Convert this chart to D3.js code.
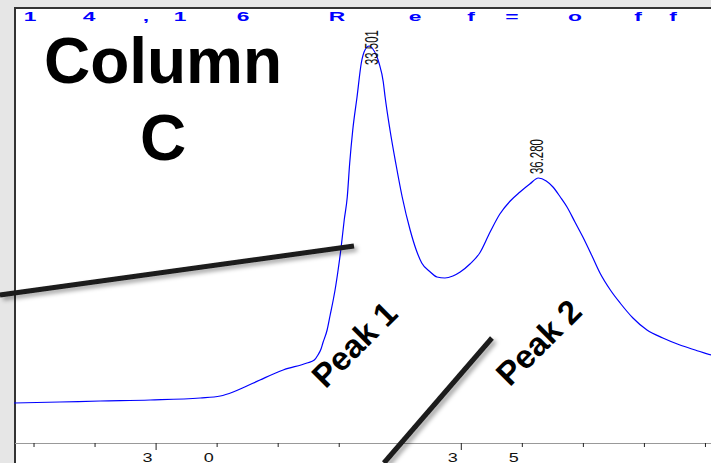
<!DOCTYPE html>
<html>
<head>
<meta charset="utf-8">
<script src="https://cdn.jsdelivr.net/npm/d3@7"></script>
<style>
  body { margin: 0; background: #e6e6e6; }
  svg { display: block; }
</style>
</head>
<body>
<svg id="chart" width="711" height="463"></svg>
<script>
// chromatogram trace (minutes, signal)
const times = [27.68, 28.43, 29.09, 29.91, 30.73, 31.06, 31.27, 31.46, 31.71, 32.09,
  32.48, 32.60, 32.66, 32.71, 32.74, 32.81, 32.86, 32.91, 32.94, 32.99,
  33.04, 33.09, 33.14, 33.18, 33.23, 33.30, 33.37, 33.43, 33.50, 33.56,
  33.66, 33.73, 33.76, 33.84, 33.94, 34.04, 34.17, 34.27, 34.36, 34.50,
  34.61, 34.74, 34.87, 34.99, 35.15, 35.31, 35.48, 35.64, 35.81, 35.97,
  36.13, 36.27, 36.40, 36.51, 36.63, 36.74, 36.87, 37.00, 37.15, 37.28,
  37.45, 37.61, 37.82, 38.05, 38.31, 38.59, 38.84, 39.10, 39.25]
const signal = [10.0, 10.25, 10.5, 10.75, 11.25, 11.75, 12.75, 14.0, 15.75, 18.25,
  20.0, 20.75, 22.0, 23.5, 25.0, 28.25, 32.0, 35.75, 38.25, 43.25,
  49.0, 55.75, 61.5, 70.0, 78.25, 86.5, 95.0, 98.25, 99.25, 98.5,
  95.0, 90.25, 86.5, 78.25, 69.5, 61.5, 53.25, 48.25, 45.0, 42.75,
  41.5, 41.25, 41.75, 42.75, 44.75, 47.5, 52.75, 57.25, 60.5, 62.75,
  64.75, 66.25, 65.5, 64.0, 61.5, 59.0, 55.25, 51.5, 46.75, 42.5,
  38.25, 35.0, 31.25, 28.25, 26.25, 24.5, 23.25, 22.0, 21.5]

const peakTimes = [33.501, 36.280]
const peakValues = [99.25, 66.25]
const peakNames = ["Peak 1", "Peak 2"]
const peakNamePos = [[33.25, 24.75], [36.27, 25.25]]

const tickValues = [28, 29, 30, 31, 32, 33, 34, 35, 36, 37, 38, 39]
const majorTicks = [30, 35]
const titleText = "14,16 Ref=off"
const titleCharX = [30, 89, 146, 180, 243, null, 337, 415, 471, 512, 575, 638, 673]

// pointer lines, in data coordinates
const pointers = [
  [[27.45, 37.0], [33.25, 49.25]],
  [[33.74, -5.0], [35.51, 26.25]]
]

const width = 711, height = 463
const svg = d3.select("#chart")

const x = d3.scaleLinear().domain([30, 35]).range([155.6, 460.8])
const y = d3.scaleLinear().domain([0, 100]).range([443, 43])

const defs = svg.append("defs")
const shadow = defs.append("filter").attr("id", "shadow")
  .attr("x", "-20%").attr("y", "-20%").attr("width", "140%").attr("height", "140%")
shadow.append("feDropShadow")
  .attr("dx", 3).attr("dy", 3).attr("stdDeviation", 2)
  .attr("flood-color", "#000").attr("flood-opacity", 0.35)

// plot frame
svg.append("rect").attr("x", 0).attr("y", 0).attr("width", width).attr("height", height).attr("fill", "#e6e6e6")
svg.append("rect").attr("x", 15).attr("y", 8).attr("width", width).attr("height", height).attr("fill", "#fff")
svg.append("line").attr("x1", 15).attr("x2", 15).attr("y1", 7).attr("y2", height)
  .attr("stroke", "#333").attr("stroke-width", 2)
svg.append("line").attr("x1", 14).attr("x2", width).attr("y1", 8).attr("y2", 8)
  .attr("stroke", "#333").attr("stroke-width", 2)

// x axis
const axis = svg.append("g").attr("transform", `translate(0,${y(0)})`)
  .call(d3.axisBottom(x).tickValues(tickValues).tickSize(4).tickFormat("").tickSizeOuter(0))
axis.select(".domain").attr("stroke", "#999").attr("d", `M15,0.5H${width}`)
axis.selectAll(".tick line").attr("stroke", "#222")
  .attr("y2", d => majorTicks.includes(d) ? 7 : 4)

// tick labels, drawn wide and spread out like the instrument printout
const step = x(31) - x(30)
majorTicks.forEach(t => {
  String(t).split("").forEach((ch, i) => {
    svg.append("text")
      .attr("transform", `translate(${x(t) - 8 + i * step},462) scale(1.5,1)`)
      .attr("text-anchor", "middle")
      .attr("font-family", "Liberation Sans, Arial, sans-serif")
      .attr("font-size", 12)
      .attr("fill", "#111")
      .text(ch)
  })
})

// title characters
titleText.split("").forEach((ch, i) => {
  if (titleCharX[i] == null) return
  svg.append("text")
    .attr("transform", `translate(${titleCharX[i]},20.5) scale(1.9,1)`)
    .attr("text-anchor", "middle")
    .attr("font-family", "Liberation Sans, Arial, sans-serif")
    .attr("font-weight", "bold")
    .attr("font-size", 12)
    .attr("fill", "#0000ff")
    .text(ch)
})

// trace
const data = times.map((t, i) => ({ t: t, v: signal[i] }))
const line = d3.line().x(d => x(d.t)).y(d => y(d.v)).curve(d3.curveMonotoneX)
svg.append("path").datum(data)
  .attr("d", line)
  .attr("fill", "none")
  .attr("stroke", "#0000ff")
  .attr("stroke-width", 1.2)

// peak retention labels
const labelOffsets = [[9, 19], [4, -4]]
peakTimes.forEach((t, i) => {
  const px = x(t) + labelOffsets[i][0], py = y(peakValues[i]) + labelOffsets[i][1]
  svg.append("text")
    .attr("transform", `translate(${px},${py}) rotate(-90) scale(0.6,1)`)
    .attr("font-family", "Liberation Sans, Arial, sans-serif")
    .attr("font-size", 19)
    .attr("fill", "#111")
    .text(t.toFixed(3))
})

// big title
const big = svg.append("text")
  .attr("font-family", "Liberation Sans, Arial, sans-serif")
  .attr("font-weight", "bold")
  .attr("font-size", 64)
  .attr("text-anchor", "middle")
  .attr("fill", "#000")
big.append("tspan").attr("x", 163).attr("y", 83).text("Column")
big.append("tspan").attr("x", 163).attr("y", 160).text("C")

// pointer lines
svg.selectAll(".pointer").data(pointers).enter().append("line")
  .attr("class", "pointer")
  .attr("x1", d => x(d[0][0])).attr("y1", d => y(d[0][1]))
  .attr("x2", d => x(d[1][0])).attr("y2", d => y(d[1][1]))
  .attr("stroke", "#1a1a1a")
  .attr("stroke-width", 5)
  .attr("filter", "url(#shadow)")

// peak names
svg.selectAll(".peakname").data(peakNames).enter().append("text")
  .attr("class", "peakname")
  .attr("transform", (d, i) => `translate(${x(peakNamePos[i][0])},${y(peakNamePos[i][1])}) rotate(-45)`)
  .attr("text-anchor", "middle")
  .attr("dy", "0.36em")
  .attr("font-family", "Liberation Sans, Arial, sans-serif")
  .attr("font-weight", "bold")
  .attr("font-size", 33)
  .attr("fill", "#000")
  .text(d => d)
</script>
</body>
</html>
